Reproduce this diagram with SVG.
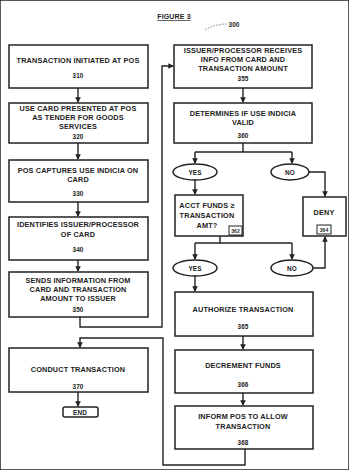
<svg xmlns="http://www.w3.org/2000/svg" width="349" height="470" viewBox="0 0 349 470">
<defs>
<marker id="ah" viewBox="0 0 6 6" refX="5" refY="3" markerWidth="4" markerHeight="4" orient="auto"><path d="M0,0 L6,3 L0,6 Z" fill="#222"/></marker>
<style>
rect,ellipse{fill:#fff;stroke:#222;stroke-width:1.5}
.c{fill:none;stroke:#222;stroke-width:1.4}
text{font-family:"Liberation Sans",Arial,sans-serif;font-size:7.3px;font-weight:bold;fill:#222;text-anchor:middle;letter-spacing:0.15px}
.n{font-size:6.4px}
</style>
</defs>
<rect width="349" height="470" fill="#fff" stroke="none"/>
<text x="174" y="19" style="font-size:7px;text-decoration:underline">FIGURE 3</text>
<text x="234" y="27" class="n">300</text>
<path d="M205,30 Q215,24 227,24" fill="none" stroke="#888" stroke-width="0.8" stroke-dasharray="2,1"/>

<g id="connectors">
<line class="c" x1="78" y1="88" x2="78" y2="102" marker-end="url(#ah)"/>
<line class="c" x1="78" y1="143" x2="78" y2="159" marker-end="url(#ah)"/>
<line class="c" x1="78" y1="202" x2="78" y2="216" marker-end="url(#ah)"/>
<line class="c" x1="78" y1="260" x2="78" y2="271" marker-end="url(#ah)"/>
<polyline class="c" points="80,317 80,327 162,327 162,66 173,66" marker-end="url(#ah)"/>
<line class="c" x1="78" y1="392" x2="78" y2="406" marker-end="url(#ah)"/>
<line class="c" x1="243" y1="88" x2="243" y2="102" marker-end="url(#ah)"/>
<polyline class="c" points="243,143 243,152"/>
<polyline class="c" points="195,152 292,152"/>
<line class="c" x1="195" y1="152" x2="195" y2="163" marker-end="url(#ah)"/>
<line class="c" x1="292" y1="152" x2="292" y2="163" marker-end="url(#ah)"/>
<polyline class="c" points="309,172 325,172 325,196" marker-end="url(#ah)"/>
<line class="c" x1="195" y1="180" x2="195" y2="194" marker-end="url(#ah)"/>
<polyline class="c" points="220,236 220,243"/>
<polyline class="c" points="195,243 292,243"/>
<line class="c" x1="195" y1="243" x2="195" y2="259" marker-end="url(#ah)"/>
<line class="c" x1="292" y1="243" x2="292" y2="259" marker-end="url(#ah)"/>
<polyline class="c" points="313,268 325,268 325,237" marker-end="url(#ah)"/>
<line class="c" x1="195" y1="276" x2="195" y2="291" marker-end="url(#ah)"/>
<line class="c" x1="243" y1="336" x2="243" y2="349" marker-end="url(#ah)"/>
<line class="c" x1="243" y1="393" x2="243" y2="405" marker-end="url(#ah)"/>
<polyline class="c" points="245,449 245,465 163,465 163,338 80,338 80,347" marker-end="url(#ah)"/>
</g>

<g id="n310"><rect x="9" y="45" width="139" height="43"/><text x="78" y="63">TRANSACTION INITIATED AT POS</text><text x="78" y="78" class="n">310</text></g>
<g id="n320"><rect x="9" y="103" width="139" height="40"/><text x="78" y="111">USE CARD PRESENTED AT POS</text><text x="78" y="120">AS TENDER FOR GOODS</text><text x="78" y="129">SERVICES</text><text x="78" y="139" class="n">320</text></g>
<g id="n330"><rect x="9" y="160" width="139" height="42"/><text x="78" y="173">POS CAPTURES USE INDICIA ON</text><text x="78" y="182">CARD</text><text x="78" y="196" class="n">330</text></g>
<g id="n340"><rect x="9" y="217" width="139" height="43"/><text x="78" y="227">IDENTIFIES ISSUER/PROCESSOR</text><text x="78" y="237">OF CARD</text><text x="78" y="252" class="n">340</text></g>
<g id="n350"><rect x="9" y="272" width="139" height="45"/><text x="78" y="283">SENDS INFORMATION FROM</text><text x="78" y="292">CARD AND TRANSACTION</text><text x="78" y="301">AMOUNT TO ISSUER</text><text x="78" y="312" class="n">350</text></g>
<g id="n370"><rect x="9" y="348" width="139" height="44"/><text x="78" y="372">CONDUCT TRANSACTION</text><text x="78" y="389" class="n">370</text></g>
<g id="end"><rect x="63" y="407" width="35" height="10" rx="2"/><text x="80" y="414.5" class="n">END</text></g>

<g id="n355"><rect x="174" y="45" width="138" height="43"/><text x="243" y="53">ISSUER/PROCESSOR RECEIVES</text><text x="243" y="62">INFO FROM CARD AND</text><text x="243" y="71">TRANSACTION AMOUNT</text><text x="243" y="81" class="n">355</text></g>
<g id="n360"><rect x="174" y="103" width="138" height="40"/><text x="243" y="116">DETERMINES IF USE INDICIA</text><text x="243" y="125">VALID</text><text x="243" y="138" class="n">360</text></g>
<g id="yes1"><ellipse cx="195" cy="172" rx="22" ry="8"/><text x="195" y="174.5" class="n">YES</text></g>
<g id="no1"><ellipse cx="290" cy="172" rx="19" ry="8"/><text x="290" y="174.5" class="n">NO</text></g>
<g id="n362"><rect x="175" y="195" width="68" height="41"/><text x="207" y="208">ACCT FUNDS ≥</text><text x="207" y="218">TRANSACTION</text><text x="207" y="228">AMT?</text><rect x="229" y="226" width="13" height="9" style="stroke-width:1"/><text x="235.5" y="233" class="n" style="font-size:5px;letter-spacing:0">362</text></g>
<g id="n364"><rect x="303" y="197" width="43" height="39"/><text x="324" y="215">DENY</text><rect x="317" y="225" width="14" height="9" style="stroke-width:1"/><text x="324" y="232" class="n" style="font-size:5px;letter-spacing:0">364</text></g>
<g id="yes2"><ellipse cx="195" cy="268" rx="22" ry="8"/><text x="195" y="270.5" class="n">YES</text></g>
<g id="no2"><ellipse cx="292" cy="268" rx="21" ry="8"/><text x="292" y="270.5" class="n">NO</text></g>
<g id="n365"><rect x="175" y="292" width="138" height="44"/><text x="243" y="312">AUTHORIZE TRANSACTION</text><text x="243" y="329" class="n">365</text></g>
<g id="n366"><rect x="175" y="350" width="138" height="43"/><text x="243" y="368">DECREMENT FUNDS</text><text x="243" y="387" class="n">366</text></g>
<g id="n368"><rect x="175" y="406" width="138" height="43"/><text x="243" y="419">INFORM POS TO ALLOW</text><text x="243" y="429">TRANSACTION</text><text x="243" y="445" class="n">368</text></g>
</svg>
